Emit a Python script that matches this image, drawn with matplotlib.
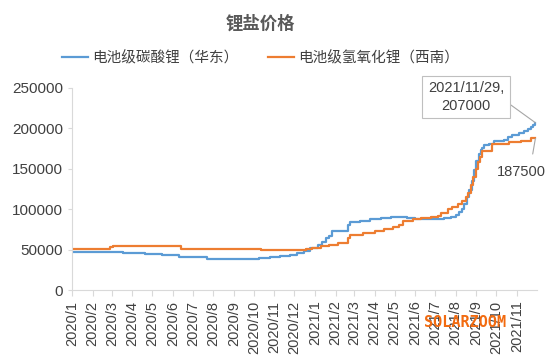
import matplotlib
matplotlib.use("Agg")
import matplotlib.pyplot as plt
import matplotlib.dates as mdates
import pandas as pd

plt.rcParams['font.family'] = ['Liberation Sans', 'Noto Sans CJK SC', 'DejaVu Sans']

# 电池级碳酸锂（华东）
blue_dates = ["2020-01-02", "2020-03-18", "2020-04-20", "2020-05-15", "2020-06-10",
              "2020-07-22", "2020-10-08", "2020-10-25", "2020-11-10", "2020-11-25",
              "2020-12-05", "2020-12-15", "2020-12-25", "2021-01-05", "2021-01-12",
              "2021-01-18", "2021-01-22", "2021-01-26", "2021-02-20", "2021-02-22",
              "2021-03-10", "2021-03-25", "2021-04-10", "2021-04-25", "2021-05-20",
              "2021-06-01", "2021-06-15", "2021-07-15", "2021-07-25", "2021-08-01",
              "2021-08-06", "2021-08-10", "2021-08-14", "2021-08-18", "2021-08-21",
              "2021-08-25", "2021-08-28", "2021-09-01", "2021-09-05", "2021-09-08",
              "2021-09-10", "2021-09-13", "2021-09-20", "2021-09-28", "2021-10-12",
              "2021-10-18", "2021-10-25", "2021-11-04", "2021-11-12", "2021-11-18",
              "2021-11-22", "2021-11-25", "2021-11-29"]
blue_vals = [47500, 46000, 44500, 43000, 41500,
             39000, 40000, 41000, 42500, 44000,
             46000, 48000, 52000, 56000, 60000,
             64000, 67000, 72500, 80000, 84500,
             86000, 88000, 89000, 90000, 89500,
             88500, 88000, 89500, 91000, 93000,
             96000, 100000, 107000, 115000, 124000,
             135000, 148500, 160000, 168000, 173000,
             176000, 179500, 181000, 184000, 186000,
             189000, 191500, 194000, 197000, 199000,
             202000, 204000, 207000]

# 电池级氢氧化锂（西南）
orange_dates = ["2020-01-02", "2020-02-27", "2020-03-02", "2020-05-14", "2020-06-13",
                "2020-10-11", "2020-12-18", "2020-12-28", "2021-01-10", "2021-01-22",
                "2021-02-05", "2021-02-20", "2021-02-23", "2021-03-15", "2021-04-01",
                "2021-04-15", "2021-04-28", "2021-05-08", "2021-05-14", "2021-05-28",
                "2021-06-10", "2021-06-25", "2021-07-05", "2021-07-10", "2021-07-20",
                "2021-07-26", "2021-08-05", "2021-08-10", "2021-08-16", "2021-08-20",
                "2021-08-24", "2021-08-27", "2021-08-31", "2021-09-03", "2021-09-06",
                "2021-09-09", "2021-09-24", "2021-10-20", "2021-11-08", "2021-11-22",
                "2021-11-29"]
orange_vals = [51000, 53000, 55000, 54000, 50500,
               49500, 51000, 52500, 54000, 56000,
               58500, 64000, 68000, 71000, 73500,
               76000, 78000, 80000, 85000, 87500,
               89000, 90000, 91500, 95000, 100000,
               103000, 106000, 110000, 115000, 120000,
               130000, 140000, 150000, 158000, 165000,
               172000, 180500, 183000, 185000, 187500,
               187500]

blue_x = pd.to_datetime(blue_dates)
orange_x = pd.to_datetime(orange_dates)

fig = plt.figure(figsize=(5.54, 3.56), dpi=100)
ax = fig.add_axes([0.13, 0.185, 0.84, 0.568])

ax.plot(blue_x, blue_vals, color='#5B9BD5', lw=1.6, drawstyle='steps-post',
        label='电池级碳酸锂（华东）')
ax.plot(orange_x, orange_vals, color='#ED7D31', lw=1.6, drawstyle='steps-post',
        label='电池级氢氧化锂（西南）')

ax.set_ylim(0, 250000)
ax.set_yticks(range(0, 250001, 50000))
ax.set_xlim(pd.Timestamp("2020-01-01"), pd.Timestamp("2021-12-02"))
ax.xaxis.set_major_locator(mdates.MonthLocator())
ax.xaxis.set_major_formatter(plt.FuncFormatter(
    lambda v, p: "%d/%d" % (mdates.num2date(v).year, mdates.num2date(v).month)))
ticks = [t for t in ax.get_xticks() if mdates.num2date(t).replace(tzinfo=None) <= pd.Timestamp("2021-11-01")]
ax.set_xticks(ticks)

for s in ['top', 'right']:
    ax.spines[s].set_visible(False)
for s in ['left', 'bottom']:
    ax.spines[s].set_color('#d9d9d9')
ax.tick_params(axis='x', colors='#d9d9d9', labelcolor='#404040', labelsize=10.5,
               labelrotation=90, length=4)
ax.tick_params(axis='y', colors='#d9d9d9', labelcolor='#404040', labelsize=11, length=3)

fig.text(0.47, 0.935, '锂盐价格', ha='center', va='center', fontsize=12.5,
         color='#595959', fontweight='bold')
fig.legend(loc='center', bbox_to_anchor=(0.47, 0.837), ncol=2, frameon=False,
           fontsize=10.5, handlelength=1.8, columnspacing=2.0, handletextpad=0.3,
           labelcolor='#404040')

# annotations
ax.annotate("2021/11/29,\n207000", xy=(blue_x[-1], blue_vals[-1]),
            xytext=(466, 259), textcoords='figure pixels', ha='center', va='center',
            fontsize=10.5, color='#404040', linespacing=1.3,
            bbox=dict(boxstyle='square,pad=0.4', fc='white', ec='#bfbfbf', lw=0.8),
            arrowprops=dict(arrowstyle='-', color='#a6a6a6', lw=0.8,
                            shrinkA=0, shrinkB=0, relpos=(1.0, 0.4)))
ax.annotate("187500", xy=(orange_x[-1], orange_vals[-1]),
            xytext=(521, 184), textcoords='figure pixels', ha='center', va='center',
            fontsize=10.5, color='#404040',
            arrowprops=dict(arrowstyle='-', color='#a6a6a6', lw=0.8,
                            shrinkA=6, shrinkB=0, relpos=(0.7, 1.0)))

# watermark
fig.text(0.84, 0.095, 'SOLARZOOM', ha='center', va='center', fontsize=11,
         color='#F26B10', family='DejaVu Sans Mono', fontweight='bold', zorder=10)

fig.savefig("out.png", dpi=100)
